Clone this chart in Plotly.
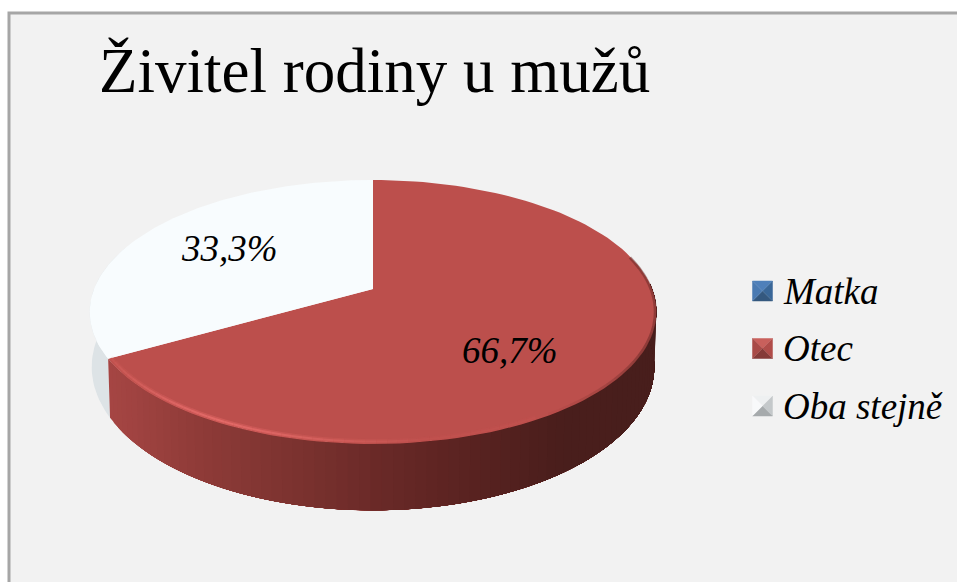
"""
Živitel rodiny u mužů: 3D pie drawn on a pixel-sized plot area.
"""

import numpy as np
import plotly.graph_objects as go

categories = ["Matka", "Otec", "Oba stejně"]
shares = [0.0, 66.7, 33.3]
share_labels = ["", "66,7%", "33,3%"]
face_colors = ["#4f81bd", "#bc4f4c", "#f8fcfe"]
title_text = "Živitel rodiny u mužů"

# bevel of the legend keys: top, right, bottom, left
key_colors = [
    ["#4f80ba", "#3a6798", "#34587f", "#4a7ab2"],
    ["#c9605c", "#b04c49", "#853a38", "#a84a47"],
    ["#eef0f1", "#c4c8ca", "#a6aaac", "#f8f9fa"],
]

# side wall colours, against screen x
wall_x = [108, 200, 300, 370, 450, 560, 660]
wall_r = [166, 142, 122, 107, 92, 74, 72]
wall_g = [70, 59, 50, 42, 36, 30, 30]
wall_b = [68, 56, 47, 40, 34, 28, 28]

W, H = 957, 582
APEX_X, APEX_Y = 373, 289
SX, SY, TILT = 279, 128, 0.174
DROP, BOTTOM_SY, BOTTOM_SX = 53, 139, 277


def project(angle, sx=SX, sy=SY, y0=APEX_Y):
    """Clockwise angle from the top of the pie (degrees) to screen pixels."""
    a = np.radians(angle)
    w = 1 + TILT * np.cos(a)
    return APEX_X + sx * np.sin(a) / w, y0 - sy * np.cos(a) / w


def project_bottom(angle):
    return project(angle, BOTTOM_SX, BOTTOM_SY, APEX_Y + DROP)


def poly(x, y, color, line=0.0):
    return go.Scatter(
        x=list(x),
        y=list(y),
        mode="lines",
        fill="toself",
        fillcolor=color,
        line=dict(color=color, width=line),
        showlegend=False,
        hoverinfo="skip",
    )


def rim_line(a0, a1, color, width, sx=SX - 2, sy=SY - 1):
    x, y = project(np.array([a0, a1]), sx, sy)
    return go.Scatter(
        x=x, y=y, mode="lines", line=dict(color=color, width=width),
        showlegend=False, hoverinfo="skip",
    )


fig = go.Figure()

ends = np.cumsum(shares) / np.sum(shares) * 360
starts = ends - np.array(shares) / np.sum(shares) * 360

# side wall of the white slice, left of the red one
a = np.linspace(ends[1], 290, 30)
x1, y1 = project(a)
x2, y2 = project_bottom(a)
fig.add_trace(poly(np.r_[x1, x2[::-1]], np.r_[y1, y2[::-1]], "#dde3e6"))

# side wall of the red slice: strips overlap so no seams show through
steps = np.linspace(ends[1], 88, 80)
for k in range(len(steps) - 1):
    arc = np.linspace(steps[k], steps[-1], 60)
    xa, ya = project(arc)
    xb, yb = project_bottom(arc[::-1])
    mid = project(steps[k])[0]
    rgb = [int(np.interp(mid, wall_x, c)) for c in (wall_r, wall_g, wall_b)]
    fig.add_trace(
        poly(np.r_[xa, xb], np.r_[ya, yb], "rgb(%d,%d,%d)" % tuple(rgb))
    )

# top faces
for i in range(len(categories)):
    if shares[i] == 0:
        continue
    a = np.linspace(starts[i], ends[i], 120)
    x, y = project(a)
    fig.add_trace(
        poly(np.r_[APEX_X, x, APEX_X], np.r_[APEX_Y, y, APEX_Y], face_colors[i])
    )

# light rim along the front of the red face, dark soft edge on the right
rim = np.linspace(ends[1], 150, 50)
for a0, a1 in zip(rim[:-1], rim[1:]):
    k = np.clip(1 - abs((a0 + a1) / 2 - 208) / 40, 0.1, 1)
    fig.add_trace(rim_line(a0, a1, "rgba(228,104,102,%.2f)" % (k * 0.45), 5, SX - 3, SY - 2))
    fig.add_trace(rim_line(a0, a1, "rgba(232,110,108,%.2f)" % (k * 0.8), 2, SX - 3, SY - 2))
shade = np.linspace(150, 75, 30)
for a0, a1 in zip(shade[:-1], shade[1:]):
    k = np.clip((150 - a0) / 30, 0, 1)
    fig.add_trace(rim_line(a0, a1, "rgba(90,36,34,%.2f)" % (k * 0.45), 3, SX - 1, SY - 1))

# legend keys, four triangles each
KEY_X, KEY_Y0, KEY_GAP, KEY_R = 762.5, 291, 57.5, 10
for i, name in enumerate(categories):
    cy = KEY_Y0 + i * KEY_GAP
    corners = [
        (KEY_X - KEY_R, cy - KEY_R),
        (KEY_X + KEY_R, cy - KEY_R),
        (KEY_X + KEY_R, cy + KEY_R),
        (KEY_X - KEY_R, cy + KEY_R),
    ]
    for j in range(4):
        p, q = corners[j], corners[(j + 1) % 4]
        fig.add_trace(
            poly([p[0], q[0], KEY_X], [p[1], q[1], cy], key_colors[i][j], 0.5)
        )
    fig.add_annotation(
        x=KEY_X + 18, y=cy, text=name, xanchor="left", yanchor="middle",
        showarrow=False,
        font=dict(family="Liberation Serif", size=37, color="#000000", style="italic"),
    )

# slice labels
label_pos = {"Otec": (510, 350), "Oba stejně": (229, 248)}
for name, label in zip(categories, share_labels):
    if label:
        fig.add_annotation(
            x=label_pos[name][0], y=label_pos[name][1], text=label,
            showarrow=False,
            font=dict(family="Liberation Serif", size=37, color="#000000", style="italic"),
        )

fig.add_annotation(
    x=97, y=71, text=title_text, xanchor="left", yanchor="middle", showarrow=False,
    font=dict(family="Liberation Serif", size=63, color="#000000"),
)

fig.update_layout(
    width=W,
    height=H,
    margin=dict(l=0, r=0, t=0, b=0),
    paper_bgcolor="#ffffff",
    plot_bgcolor="#ffffff",
    showlegend=False,
    hovermode=False,
    xaxis=dict(range=[0, W], visible=False, fixedrange=True),
    yaxis=dict(range=[H, 0], visible=False, fixedrange=True),
    shapes=[
        dict(
            type="rect", x0=9, y0=13, x1=W + 5, y1=H + 5, layer="below",
            fillcolor="#f2f2f2", line=dict(color="#a6a6a6", width=3),
        )
    ],
)

fig.write_html(
    "out.html",
    config={"displayModeBar": False},
    post_script="document.body.style.margin='0'",
)
